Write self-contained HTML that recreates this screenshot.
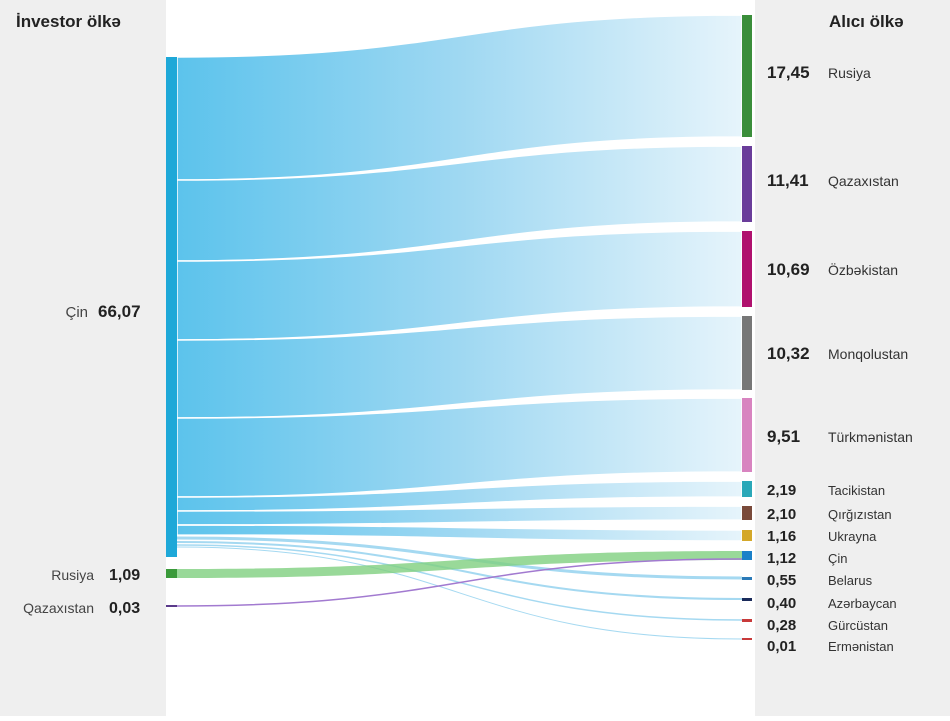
<!DOCTYPE html>
<html><head><meta charset="utf-8"><style>
body{margin:0;width:950px;height:716px;overflow:hidden;background:#fff;font-family:"Liberation Sans",sans-serif}
</style></head><body>
<svg width="950" height="716" xmlns="http://www.w3.org/2000/svg" font-family="Liberation Sans, sans-serif">
<defs>
<linearGradient id="g" x1="177" x2="742" y1="0" y2="0" gradientUnits="userSpaceOnUse">
<stop offset="0" stop-color="#5cc3ec"/><stop offset="0.5" stop-color="#9fd8f2"/><stop offset="1" stop-color="#e6f4fb"/>
</linearGradient>
</defs>
<rect x="0" y="0" width="166" height="716" fill="#efefef"/>
<rect x="755" y="0" width="195" height="716" fill="#efefef"/>
<g fill="url(#g)" stroke="#fff" stroke-width="1.5">
<path d="M177,57 C460,57 460,15 742,15 L742,137 C460,137 460,180 177,180Z"/>
<path d="M177,180 C460,180 460,146 742,146 L742,222 C460,222 460,261 177,261Z"/>
<path d="M177,261 C460,261 460,231 742,231 L742,307 C460,307 460,340 177,340Z"/>
<path d="M177,340 C460,340 460,316 742,316 L742,390 C460,390 460,418 177,418Z"/>
<path d="M177,418 C460,418 460,398 742,398 L742,472 C460,472 460,497 177,497Z"/>
<path d="M177,497 C460,497 460,481 742,481 L742,497 C460,497 460,511 177,511Z"/>
<path d="M177,511 C460,511 460,506 742,506 L742,520 C460,520 460,525 177,525Z"/>
<path d="M177,525 C460,525 460,530 742,530 L742,541 C460,541 460,535 177,535Z"/>
</g>
<g fill="none" stroke="#8fcfee" stroke-opacity="0.8">
<path d="M177,538 C460,538 460,578 742,578" stroke-width="3"/>
<path d="M177,542 C460,542 460,599 742,599" stroke-width="2"/>
<path d="M177,545 C460,545 460,620 742,620" stroke-width="1.5"/>
<path d="M177,547 C460,547 460,639 742,639" stroke-width="1"/>
</g>
<path d="M177,569 C460,569 460,551 742,551 L742,560 C460,560 460,578 177,578Z" fill="#7fcf7f" fill-opacity="0.8"/>
<path d="M177,606 C460,606 460,559 742,559" stroke="#a27ad0" stroke-width="1.5" fill="none"/>
<rect x="166" y="57" width="11" height="500" fill="#1ea8d8"/>
<rect x="166" y="569" width="11" height="9" fill="#3a9a3a"/>
<rect x="166" y="605" width="11" height="2" fill="#5a3a8a"/>
<rect x="742" y="15" width="10" height="122" fill="#3a8e3a"/>
<rect x="742" y="146" width="10" height="76" fill="#6a3d9a"/>
<rect x="742" y="231" width="10" height="76" fill="#b0116e"/>
<rect x="742" y="316" width="10" height="74" fill="#777"/>
<rect x="742" y="398" width="10" height="74" fill="#d884c0"/>
<rect x="742" y="481" width="10" height="16" fill="#2aa8b8"/>
<rect x="742" y="506" width="10" height="14" fill="#7a4a3a"/>
<rect x="742" y="530" width="10" height="11" fill="#d4a82a"/>
<rect x="742" y="551" width="10" height="9" fill="#1a80c8"/>
<rect x="742" y="577" width="10" height="3" fill="#2a7ab8"/>
<rect x="742" y="598" width="10" height="3" fill="#1a2a5a"/>
<rect x="742" y="619" width="10" height="3" fill="#c83a3a"/>
<rect x="742" y="638" width="10" height="2" fill="#c83a3a"/>
<g fill="#222">
<text x="16" y="27" font-size="17" font-weight="bold">İnvestor ölkə</text>
<text x="829" y="27" font-size="17" font-weight="bold">Alıcı ölkə</text>
<text x="88" y="317" font-size="15" text-anchor="end" fill="#444">Çin</text>
<text x="98" y="317" font-size="17" font-weight="bold">66,07</text>
<text x="94" y="580" font-size="14" text-anchor="end" fill="#444">Rusiya</text>
<text x="109" y="580" font-size="16" font-weight="bold">1,09</text>
<text x="94" y="613" font-size="14" text-anchor="end" fill="#444">Qazaxıstan</text>
<text x="109" y="613" font-size="16" font-weight="bold">0,03</text>
</g>
<g font-size="17" font-weight="bold" fill="#222">
<text x="767" y="78">17,45</text><text x="767" y="186">11,41</text><text x="767" y="275">10,69</text>
<text x="767" y="359">10,32</text><text x="767" y="442">9,51</text>
</g>
<g font-size="14" fill="#333">
<text x="828" y="78">Rusiya</text><text x="828" y="186">Qazaxıstan</text><text x="828" y="275">Özbəkistan</text>
<text x="828" y="359">Monqolustan</text><text x="828" y="442">Türkmənistan</text>
</g>
<g font-size="15" font-weight="bold" fill="#222">
<text x="767" y="495">2,19</text><text x="767" y="519">2,10</text><text x="767" y="541">1,16</text>
<text x="767" y="563">1,12</text><text x="767" y="585">0,55</text><text x="767" y="608">0,40</text>
<text x="767" y="630">0,28</text><text x="767" y="651">0,01</text>
</g>
<g font-size="13" fill="#333">
<text x="828" y="495">Tacikistan</text><text x="828" y="519">Qırğızıstan</text><text x="828" y="541">Ukrayna</text>
<text x="828" y="563">Çin</text><text x="828" y="585">Belarus</text><text x="828" y="608">Azərbaycan</text>
<text x="828" y="630">Gürcüstan</text><text x="828" y="651">Ermənistan</text>
</g>
</svg>
</body></html>
